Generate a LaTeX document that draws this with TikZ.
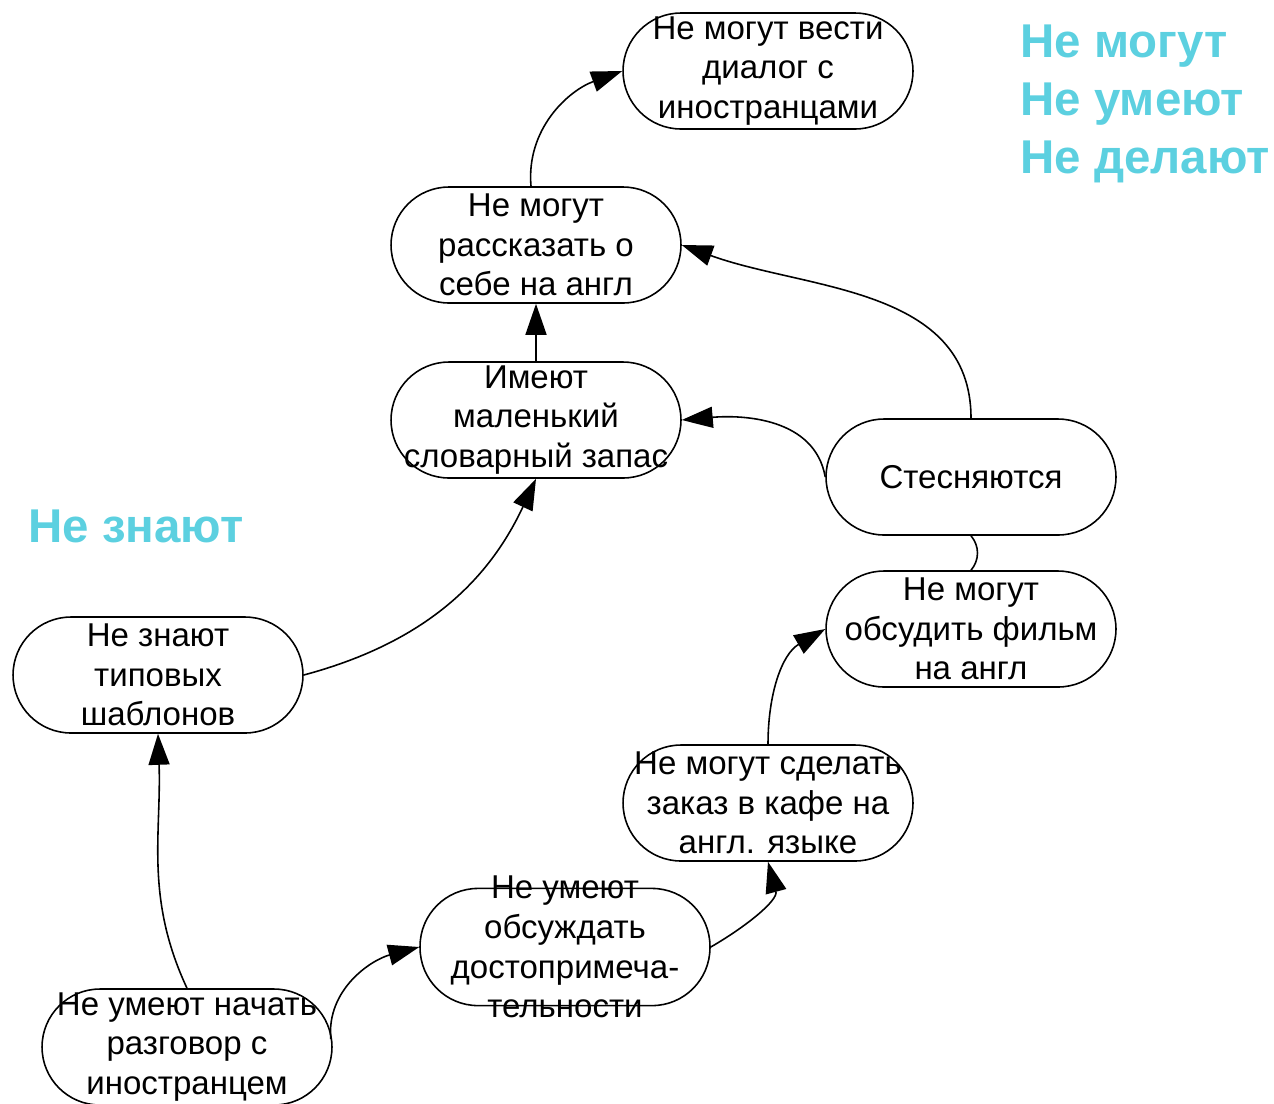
\documentclass[tikz,border=0pt]{standalone}
\usepackage{fontspec}
\setmainfont{Liberation Sans}
\usetikzlibrary{arrows.meta}
\definecolor{Cyanish}{HTML}{5CD0E0}

\tikzset{
 pill/.style={draw,line width=0.9pt,rounded corners=1.16cm,minimum width=5.8cm,
  minimum height=2.32cm,inner sep=0pt,align=center,
  font=\fontsize{18.8}{22.6}\selectfont},
 tag/.style={text=Cyanish,anchor=west,align=left,inner sep=0pt,
  font=\fontsize{27}{32.8}\selectfont\bfseries},
 link/.style={-{Triangle[length=0.62cm,width=0.42cm]},line width=0.9pt}
}

\begin{document}
\begin{tikzpicture}[x=0.02cm,y=-0.02cm]
\useasboundingbox (0,0) rectangle (1274,1103);
% nodes
\node[pill] (dialog) at (768,71) {Не могут вести\\диалог с\\иностранцами};
\node[pill] (tell) at (536,245) {Не могут\\рассказать о\\себе на англ};
\node[pill] (vocab) at (536,420) {Имеют\\маленький\\словарный запас};
\node[pill] (shy) at (971,477) {Стесняются};
\node[pill] (film) at (971,629) {Не могут\\обсудить фильм\\на англ};
\node[pill] (templ) at (158,675) {Не знают\\типовых\\шаблонов};
\node[pill] (cafe) at (768,803) {Не могут сделать\\заказ в кафе на\\англ. языке};
\node[pill,inner ysep=-0.25cm] (sights) at (565,947) {Не умеют\\обсуждать\\достопримеча-\\тельности};
\node[pill] (start) at (187,1047) {Не умеют начать\\разговор с\\иностранцем};
% labels
\node[tag] (cant) at (1020,104) {Не могут\\Не умеют\\Не делают};
\node[tag] (dontknow) at (28,526) {Не знают};
% links
\draw[link] (tell.north) ++(-5,0) to[out=95,in=200] (dialog.west);
\draw[link] (vocab) -- (tell);
\draw[link] (shy.north) to[out=90,in=-20] (tell.east);
\draw[link] (shy.west) to[out=100,in=5] (vocab.east);
\draw[line width=0.9pt] (film.north) to[out=50,in=-50] (shy.south);
\draw[link] (templ.east) to[out=15,in=245] (vocab.south);
\draw[link] (cafe.north) to[out=90,in=210] (film.west);
\draw[link] (sights.east) to[out=30,in=-75] (cafe.south);
\draw[link] (start.east) ++(-2,-8) to[out=95,in=195] (sights.west);
\draw[link] (start.north) to[out=115,in=-88] (templ.south);
\end{tikzpicture}
\end{document}
